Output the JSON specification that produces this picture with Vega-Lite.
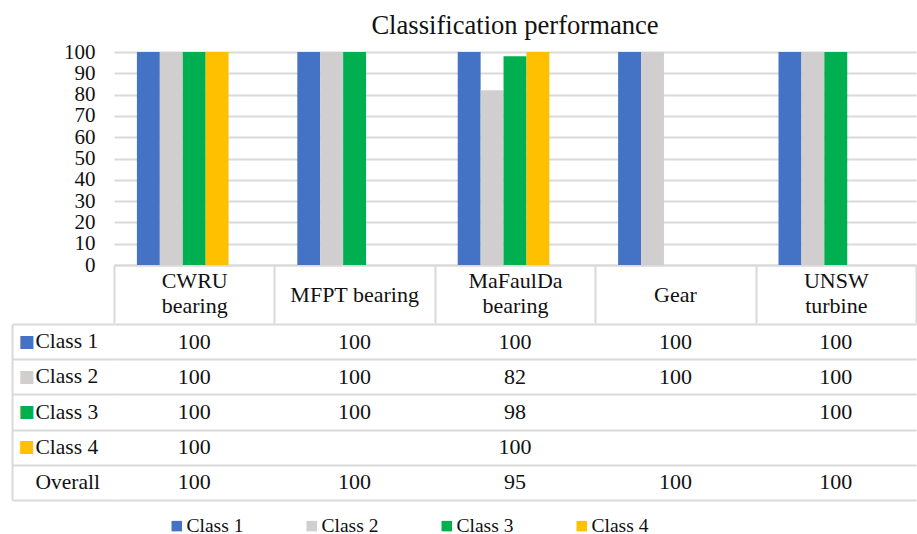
{
  "$schema": "https://vega.github.io/schema/vega-lite/v6.json",
  "padding": {"left": 11, "top": 13, "right": 0, "bottom": 0},
  "background": "white",
  "config": {
    "font": "Times New Roman",
    "view": {"stroke": null},
    "axis": {"labelFont": "Times New Roman", "labelColor": "#111"},
    "legend": {"labelFont": "Times New Roman"},
    "title": {"font": "Times New Roman"},
    "text": {"font": "Times New Roman"}
  },
  "datasets": {
    "scores": [
      {"dataset": "CWRU bearing", "cls": "Class 1", "value": 100},
      {"dataset": "CWRU bearing", "cls": "Class 2", "value": 100},
      {"dataset": "CWRU bearing", "cls": "Class 3", "value": 100},
      {"dataset": "CWRU bearing", "cls": "Class 4", "value": 100},
      {"dataset": "CWRU bearing", "cls": "Overall", "value": 100},
      {"dataset": "MFPT bearing", "cls": "Class 1", "value": 100},
      {"dataset": "MFPT bearing", "cls": "Class 2", "value": 100},
      {"dataset": "MFPT bearing", "cls": "Class 3", "value": 100},
      {"dataset": "MFPT bearing", "cls": "Overall", "value": 100},
      {"dataset": "MaFaulDa bearing", "cls": "Class 1", "value": 100},
      {"dataset": "MaFaulDa bearing", "cls": "Class 2", "value": 82},
      {"dataset": "MaFaulDa bearing", "cls": "Class 3", "value": 98},
      {"dataset": "MaFaulDa bearing", "cls": "Class 4", "value": 100},
      {"dataset": "MaFaulDa bearing", "cls": "Overall", "value": 95},
      {"dataset": "Gear", "cls": "Class 1", "value": 100},
      {"dataset": "Gear", "cls": "Class 2", "value": 100},
      {"dataset": "Gear", "cls": "Overall", "value": 100},
      {"dataset": "UNSW turbine", "cls": "Class 1", "value": 100},
      {"dataset": "UNSW turbine", "cls": "Class 2", "value": 100},
      {"dataset": "UNSW turbine", "cls": "Class 3", "value": 100},
      {"dataset": "UNSW turbine", "cls": "Overall", "value": 100}
    ]
  },
  "spacing": -12,
  "vconcat": [
    {
      "title": {"text": "Classification performance", "font": "Times New Roman", "fontSize": 26.6, "fontWeight": "normal", "color": "#111", "anchor": "middle", "offset": 1},
      "width": 802,
      "height": 213,
      "data": {"name": "scores"},
      "transform": [{"filter": "datum.cls != 'Overall'"}],
      "layer": [
        {
          "mark": {"type": "bar"},
          "encoding": {
            "x": {
              "field": "dataset", "type": "nominal",
              "sort": ["CWRU bearing", "MFPT bearing", "MaFaulDa bearing", "Gear", "UNSW turbine"],
              "scale": {"paddingInner": 0, "paddingOuter": 0},
              "axis": {
                "title": null, "orient": "bottom", "tickBand": "extent", "ticks": true, "tickSize": 58,
                "tickColor": "#D9D9D9", "tickWidth": 2, "domain": true, "domainColor": "#D9D9D9", "domainWidth": 2,
                "labelAngle": 0, "labelPadding": -43, "labelBaseline": "middle", "labelFont": "Times New Roman", "labelFontSize": 22, "labelLineHeight": 25,
                "labelOverlap": false, "labelBound": false, "labelFlush": false,
                "labelExpr": "datum.label == 'MFPT bearing' || datum.label == 'Gear' ? '' : split(datum.label, ' ')"
              }
            },
            "xOffset": {
              "field": "cls", "type": "nominal",
              "scale": {"domain": ["Class 1", "Class 2", "Class 3", "Class 4", "Overall"], "paddingInner": 0, "paddingOuter": 1.16}
            },
            "y": {
              "field": "value", "type": "quantitative",
              "scale": {"domain": [0, 100], "nice": false},
              "axis": {
                "title": null, "values": [0, 10, 20, 30, 40, 50, 60, 70, 80, 90, 100], "domain": false, "ticks": false, "tickSize": 0,
                "labelOverlap": false, "labelBound": false, "labelFlush": false,
                "labelPadding": 19, "labelFont": "Times New Roman", "labelFontSize": 21, "grid": true, "gridColor": "#D9D9D9", "gridWidth": 2
              }
            },
            "color": {
              "field": "cls", "type": "nominal",
              "scale": {"domain": ["Class 1", "Class 2", "Class 3", "Class 4"], "range": ["#4472C4", "#D0CECE", "#00B050", "#FFC000"]},
              "legend": {
                "title": null, "orient": "none", "legendX": 53, "legendY": 464, "direction": "horizontal",
                "symbolType": "square", "symbolSize": 110, "symbolStrokeWidth": 0, "symbolOpacity": 1,
                "labelFont": "Times New Roman", "labelFontSize": 19.5, "labelColor": "#111", "labelOffset": 0, "columnPadding": 58,
                "labelExpr": "datum.label == 'Class 4' ? '\u2002Class 4' : datum.label"
              }
            }
          }
        },
        {
          "mark": {"type": "text", "opacity": 0},
          "encoding": {
            "x": {
              "field": "dataset", "type": "nominal",
              "sort": ["CWRU bearing", "MFPT bearing", "MaFaulDa bearing", "Gear", "UNSW turbine"],
              "scale": {"paddingInner": 0, "paddingOuter": 0},
              "axis": {
                "title": null, "orient": "bottom", "ticks": false, "tickSize": 0, "domain": false,
                "labelAngle": 0, "labelPadding": 29, "labelBaseline": "middle", "labelFont": "Times New Roman", "labelFontSize": 22,
                "labelOverlap": false, "labelBound": false, "labelFlush": false,
                "labelExpr": "datum.label == 'MFPT bearing' || datum.label == 'Gear' ? datum.label : ''"
              }
            },
            "text": {"value": ""}
          }
        }
      ],
      "resolve": {"axis": {"x": "independent"}}
    },
    {
      "width": 802,
      "height": 176,
      "data": {"name": "scores"},
      "layer": [
        {
          "mark": {"type": "text", "font": "Times New Roman", "fontSize": 22, "color": "#111"},
          "encoding": {
            "x": {
              "field": "dataset", "type": "nominal",
              "sort": ["CWRU bearing", "MFPT bearing", "MaFaulDa bearing", "Gear", "UNSW turbine"],
              "scale": {"paddingInner": 0, "paddingOuter": 0},
              "axis": {"title": null, "labels": false, "ticks": false, "domain": false, "grid": true, "tickBand": "extent", "gridColor": "#D9D9D9", "gridWidth": 2}
            },
            "y": {
              "field": "cls", "type": "nominal",
              "scale": {"domain": ["Class 1", "Class 2", "Class 3", "Class 4", "Overall"], "paddingInner": 0, "paddingOuter": 0},
              "axis": {
                "title": null, "orient": "left", "offset": 102, "domain": true, "domainColor": "#D9D9D9", "domainWidth": 2,
                "ticks": false, "tickSize": 0, "grid": false,
                "labelAlign": "left", "labelPadding": -6, "labelFont": "DejaVu Sans", "labelFontSize": 17,
                "labelExpr": "datum.label == 'Overall' ? '' : '■'",
                "labelColor": {
                  "condition": [
                    {"test": "datum.value == 'Class 1'", "value": "#4472C4"},
                    {"test": "datum.value == 'Class 2'", "value": "#D0CECE"},
                    {"test": "datum.value == 'Class 3'", "value": "#00B050"}
                  ],
                  "value": "#FFC000"
                }
              }
            },
            "text": {"field": "value", "type": "quantitative"}
          }
        },
        {
          "mark": {"type": "text", "opacity": 0},
          "encoding": {
            "x": {
              "field": "dataset", "type": "nominal",
              "sort": ["CWRU bearing", "MFPT bearing", "MaFaulDa bearing", "Gear", "UNSW turbine"],
              "axis": null
            },
            "y": {
              "field": "cls", "type": "nominal",
              "scale": {"domain": ["Class 1", "Class 2", "Class 3", "Class 4", "Overall"], "paddingInner": 0, "paddingOuter": 0},
              "axis": {
                "title": null, "orient": "left", "offset": 0, "domain": false,
                "ticks": true, "tickSize": 102, "tickBand": "extent", "tickColor": "#D9D9D9", "tickWidth": 2,
                "grid": true, "gridColor": "#D9D9D9", "gridWidth": 2,
                "labelAlign": "left", "labelPadding": -23, "labelFont": "Times New Roman", "labelFontSize": 21.5, "labelColor": "#111",
                "labelExpr": "datum.label == 'Class 4' ? '\u2002Class 4' : datum.label"
              }
            },
            "text": {"field": "value", "type": "quantitative"}
          }
        }
      ],
      "resolve": {"axis": {"y": "independent"}}
    }
  ]
}
